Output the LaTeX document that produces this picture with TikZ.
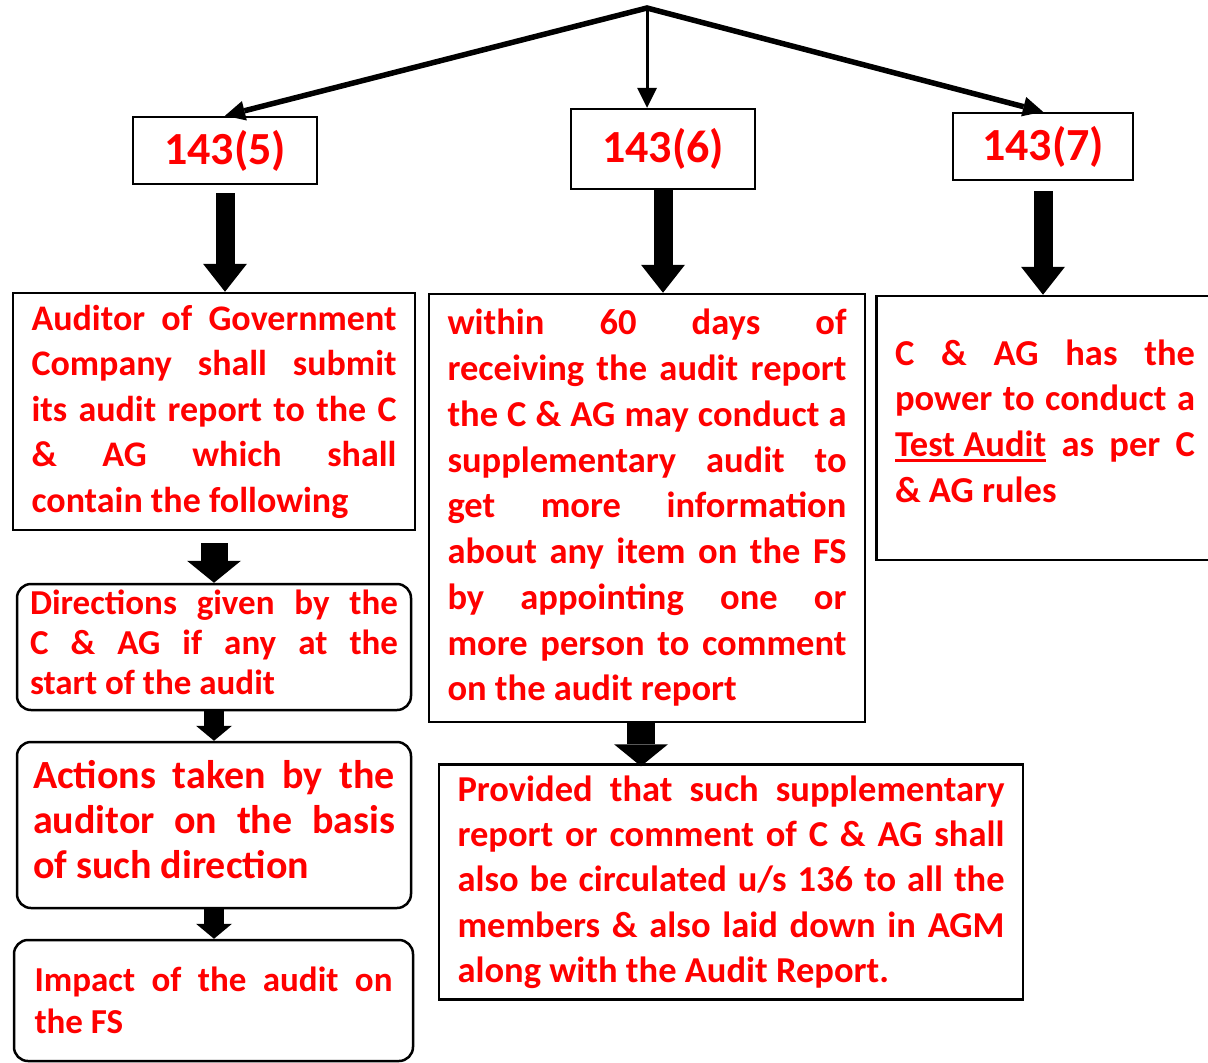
\documentclass[tikz,border=0pt]{standalone}
\usepackage{fontspec}
\setmainfont{Carlito}
\usetikzlibrary{arrows.meta}
% underline drawn as a rule, so it scales with large text
\newcommand\myul[1]{\setbox0=\hbox{#1}\rlap{\rule[-5pt]{\wd0}{2.2pt}}\box0\relax}
\tikzset{
  box/.style={draw=black, line width=2.5pt, inner sep=0pt, text=red, align=justify},
  roundbox/.style={box, rounded corners=14pt},
  numbox/.style={draw=black, line width=2.5pt, inner sep=0pt, text=red,
    font=\bfseries\fontsize{46}{50}\selectfont},
  thinarrow/.style={-{Triangle[length=20pt,width=20pt,line width=0pt]}},
  blockarrow/.style n args={3}{line width=#1,
    -{Triangle[length=#3,width=#2,line width=0pt]}},
}
\begin{document}
\begin{tikzpicture}[x=1pt,y=-1pt]
\useasboundingbox (0,0) rectangle (1208,1063);
\clip (0,0) rectangle (1208,1063);
\fill[white] (0,0) rectangle (1208,1063);

% section numbers
\node[numbox, minimum width=184pt, minimum height=67pt] (b5) at (225,150.5) {143(5)};
\node[numbox, minimum width=184pt, minimum height=80pt] (b6) at (663,149) {\raisebox{3pt}{143(6)}};
\node[numbox, minimum width=180pt, minimum height=67pt] (b7) at (1043,146.5) {143(7)};

\coordinate (apex) at (647,8);
\draw[line width=5.5pt, line join=miter,
  {Triangle[length=20pt,width=20pt,line width=0pt]}-{Triangle[length=20pt,width=20pt,line width=0pt]}]
  (b5.north) -- (apex) -- (b7.north);
\draw[line width=3pt, thinarrow] (apex) -- (apex |- b6.north);

% 143(5) branch
\node[box, minimum width=402pt, minimum height=237pt, text width=365pt,
  font=\bfseries\fontsize{36}{45.5}\selectfont] (aud) at (214,411.5)
  {Auditor of Government\linebreak Company shall submit\linebreak its audit report to the C\linebreak \& AG which shall\linebreak contain the following};

\node[roundbox, minimum width=394pt, minimum height=126pt, text width=368pt,
  font=\bfseries\fontsize{35}{40}\selectfont] (dir) at (214,647)
  {Directions given by the\linebreak C \& AG if any at the\linebreak start of the audit\par\kern10pt};

\node[roundbox, minimum width=394pt, minimum height=166pt, text width=362pt,
  font=\bfseries\fontsize{40}{45}\selectfont] (act) at (214,825)
  {Actions taken by the\linebreak auditor on the basis\linebreak of such direction\par\kern10pt};

\node[roundbox, minimum width=399pt, minimum height=121pt, text width=358pt,
  font=\bfseries\fontsize{35}{42}\selectfont] (imp) at (213.5,1000.5)
  {Impact of the audit on\linebreak the FS};

% 143(6) branch
\node[box, minimum width=436pt, minimum height=428pt, text width=399pt,
  font=\bfseries\fontsize{36.5}{45.75}\selectfont] (within) at (647,508)
  {within 60 days of\linebreak receiving the audit report\linebreak the C \& AG may conduct a\linebreak supplementary audit to\linebreak get more information\linebreak about any item on the FS\linebreak by appointing one or\linebreak more person to comment\linebreak on the audit report};

\node[box, minimum width=584pt, minimum height=235pt, text width=547pt,
  font=\bfseries\fontsize{36.5}{45.3}\selectfont] (prov) at (731,882)
  {Provided that such supplementary\linebreak report or comment of C \& AG shall\linebreak also be circulated u/s 136 to all the\linebreak members \& also laid down in AGM\linebreak along with the Audit Report.};

% 143(7) branch
\node[box, minimum width=337pt, minimum height=264pt, text width=300pt,
  font=\bfseries\fontsize{36.5}{45.7}\selectfont] (test) at (1045,428)
  {C \& AG has the\linebreak power to conduct a\linebreak \myul{Test Audit} as per C\linebreak \& AG rules\par\kern14pt};

% block arrows
\draw[blockarrow={19pt}{44pt}{28pt}, shorten <=8pt] (b5.south) -- (b5.south |- aud.north);
\draw[blockarrow={19pt}{44pt}{28pt}] (b6.south) -- (b6.south |- within.north);
\draw[blockarrow={19pt}{44pt}{28pt}, shorten <=10pt] (b7.south) -- (b7.south |- test.north);
\draw[blockarrow={27pt}{54pt}{22pt}, shorten <=12pt] (aud.south) -- (aud.south |- dir.north);
\draw[blockarrow={20pt}{36pt}{15pt}] (dir.south) -- (dir.south |- act.north);
\draw[blockarrow={20pt}{36pt}{15pt}] (act.south) -- (act.south |- imp.north);
\draw[blockarrow={28pt}{54pt}{22pt}, shorten >=-3pt] (within.south -| 641,0) -- (641,0 |- prov.north);
\end{tikzpicture}
\end{document}
